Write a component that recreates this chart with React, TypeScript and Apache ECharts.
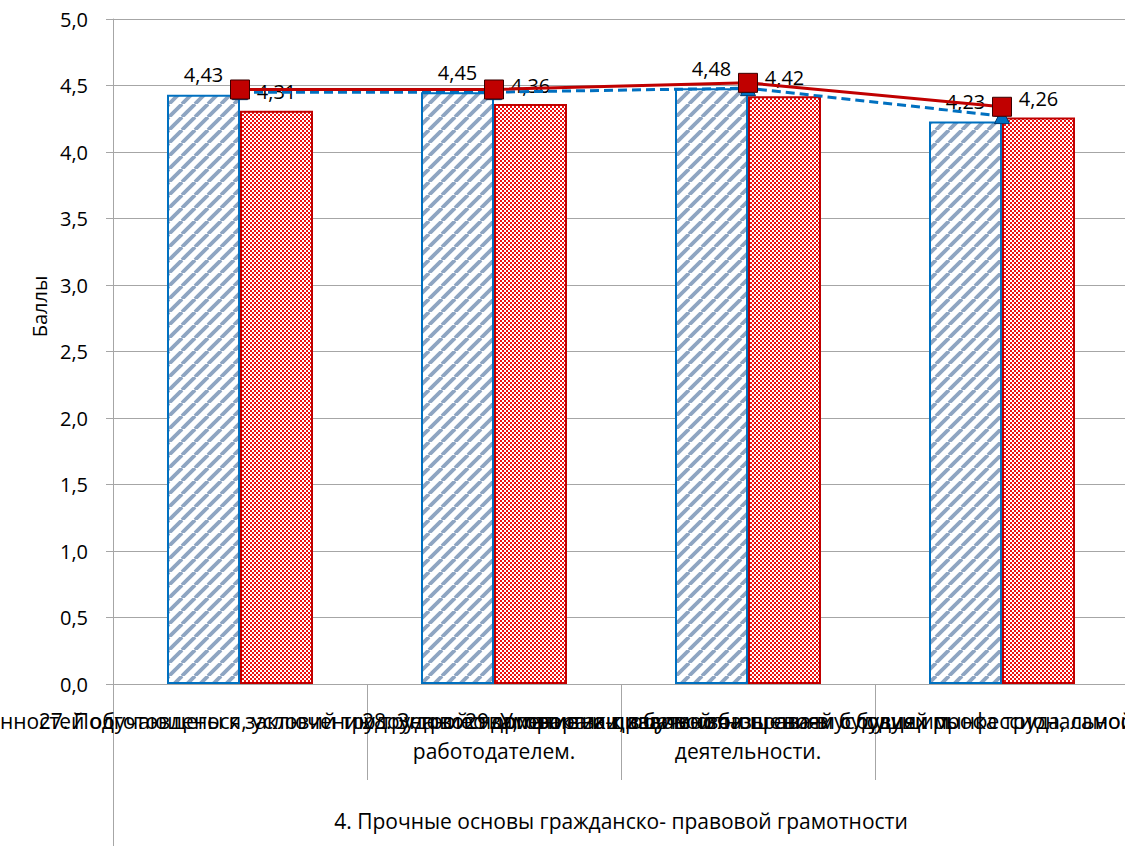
import React, { useEffect, useRef } from "react";
import * as echarts from "echarts";

const categories = [
  "26. Знание прав и обязанностей обучающегося, условий трудоустройства, практики, обучения",
  "27. Подготовлены к заключению трудового договора и к взаимоотношениям с будущим\nработодателем.",
  "28. Знание нормативно-правовой базы своей будущей профессиональной\nдеятельности.",
  "29. Умение защищать свои права в условиях рынка труда, самостоятельной карьеры и будущей работы",
];
const groupLabel = ["4. Прочные основы гражданско- правовой грамотности"];
const barBlue = [4.43, 4.45, 4.48, 4.23];
const barRed = [4.31, 4.36, 4.42, 4.26];
const lineBlue = [4.45, 4.45, 4.48, 4.27];
const lineRed = [4.47, 4.47, 4.52, 4.34];
const yTicks = { min: 0, max: 5, interval: 0.5 };

const FONT = "'Open Sans', 'Noto Sans', sans-serif";
const fmt = (v: number) => v.toFixed(2).replace(".", ",");

function stripePattern(): string {
  const c = document.createElement("canvas");
  const s = 13;
  c.width = s;
  c.height = s;
  const ctx = c.getContext("2d")!;
  ctx.fillStyle = "#ffffff";
  ctx.fillRect(0, 0, s, s);
  ctx.strokeStyle = "#8ea5c2";
  ctx.lineWidth = 3.8;
  for (let k = -1; k <= 1; k++) {
    ctx.beginPath();
    ctx.moveTo(k * s, s);
    ctx.lineTo(k * s + s, 0);
    ctx.stroke();
  }
  return c.toDataURL();
}

function checkerPattern(): string {
  const c = document.createElement("canvas");
  c.width = 4;
  c.height = 4;
  const ctx = c.getContext("2d")!;
  ctx.fillStyle = "#ffffff";
  ctx.fillRect(0, 0, 4, 4);
  ctx.fillStyle = "#ee1111";
  ctx.fillRect(0, 0, 2, 2);
  ctx.fillRect(2, 2, 2, 2);
  return c.toDataURL();
}

export default function App() {
  const ref = useRef<HTMLDivElement>(null);
  useEffect(() => {
    if (!ref.current) return;
    const chart = echarts.init(ref.current, undefined, { renderer: "svg" });
    const gray = "#a6a6a6";
    chart.setOption({
      animation: false,
      textStyle: { fontFamily: FONT },
      grid: {
        left: 113,
        top: 19,
        width: 1016,
        height: 665,
        containLabel: false,
        outerBoundsMode: "none",
      },
      xAxis: [
        {
          type: "category",
          data: categories,
          position: "bottom",
          axisLine: { show: true, lineStyle: { color: gray, width: 1 } },
          axisTick: { show: true, interval: 0, length: 96, lineStyle: { color: gray } },
          axisLabel: {
            interval: 0,
            color: "#000",
            fontSize: 21,
            fontFamily: FONT,
            lineHeight: 30,
            margin: 22,
            hideOverlap: false,
          },
          splitLine: { show: false },
        },
        {
          type: "category",
          data: groupLabel,
          position: "bottom",
          gridIndex: 0,
          axisLine: { show: false },
          axisTick: { show: true, length: 162, lineStyle: { color: gray } },
          axisLabel: { color: "#000", fontSize: 21, fontFamily: FONT, margin: 126 },
        },
      ],
      yAxis: {
        type: "value",
        min: yTicks.min,
        max: yTicks.max,
        interval: yTicks.interval,
        name: "Баллы",
        nameLocation: "middle",
        nameGap: 62,
        nameRotate: 90,
        nameTextStyle: { color: "#000", fontSize: 20, fontFamily: FONT, padding: [0, 0, 0, 90] },
        axisLine: { show: true, lineStyle: { color: gray } },
        axisTick: { show: true, length: 7, lineStyle: { color: gray } },
        axisLabel: {
          color: "#000",
          fontSize: 20,
          fontFamily: FONT,
          margin: 25,
          formatter: (v: number) => v.toFixed(1).replace(".", ","),
        },
        splitLine: { show: true, lineStyle: { color: gray } },
      },
      series: [
        {
          type: "bar",
          data: barBlue,
          barWidth: 73,
          barGap: "0%",
          itemStyle: {
            color: { image: stripePattern(), repeat: "repeat" },
            borderColor: "#0070c0",
            borderWidth: 2,
          },
          label: {
            show: true,
            position: "top",
            distance: 10,
            color: "#000",
            fontSize: 20,
            fontFamily: FONT,
            formatter: (p: any) => fmt(p.value),
          },
        },
        {
          type: "bar",
          data: barRed,
          barWidth: 73,
          barGap: "0%",
          itemStyle: {
            color: { image: checkerPattern(), repeat: "repeat" },
            borderColor: "#c00000",
            borderWidth: 2,
          },
          label: {
            show: true,
            position: "top",
            distance: 9,
            color: "#000",
            fontSize: 20,
            fontFamily: FONT,
            formatter: (p: any) => fmt(p.value),
          },
        },
        {
          type: "line",
          data: lineBlue,
          symbol: "triangle",
          symbolSize: 15,
          lineStyle: { color: "#0070c0", width: 3, type: [9, 5] },
          itemStyle: { color: "#0070c0", borderColor: "#003a70", borderWidth: 1 },
          z: 3,
        },
        {
          type: "line",
          data: lineRed,
          symbol: "rect",
          symbolSize: 19,
          lineStyle: { color: "#c00000", width: 3 },
          itemStyle: { color: "#c00000", borderColor: "#3a0000", borderWidth: 1 },
          z: 4,
        },
      ],
    });
    return () => chart.dispose();
  }, []);
  return (
    <div
      ref={ref}
      style={{ position: "absolute", left: 0, top: 0, width: 1125, height: 846, background: "#fff" }}
    />
  );
}
